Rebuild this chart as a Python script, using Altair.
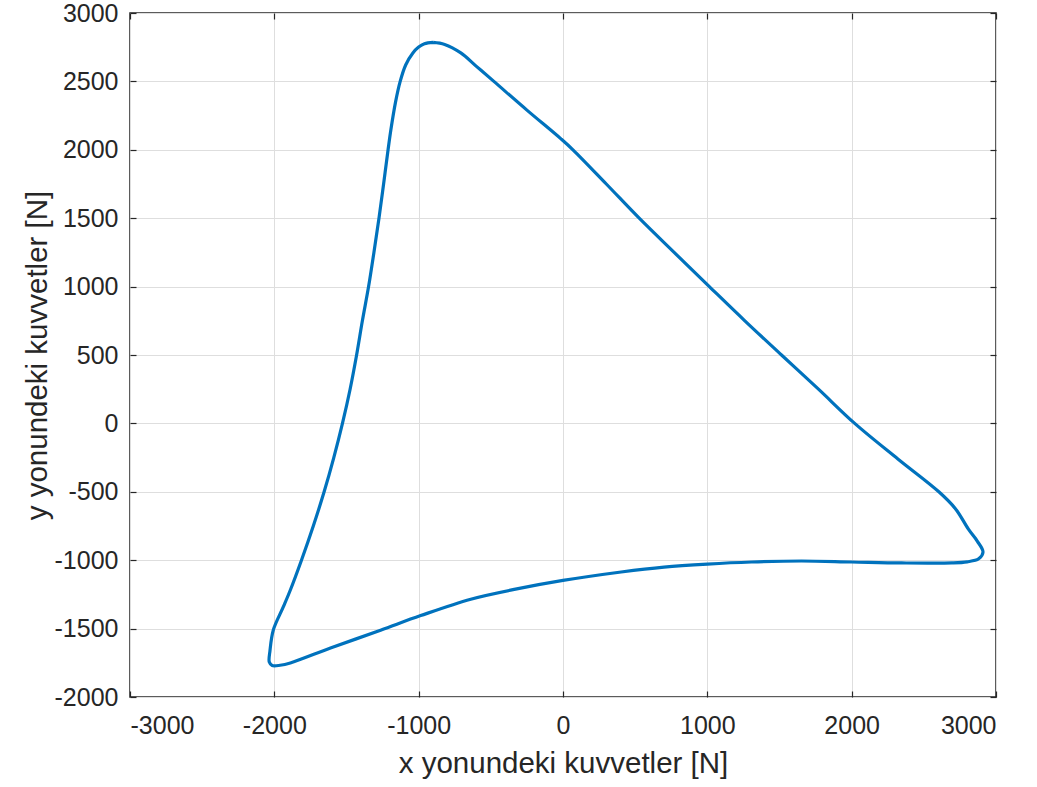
import altair as alt
import pandas as pd

# Closed force loop (x, y), in drawing order
xs = [-900, -820, -708, -600, -479, -250, -14, 69, 300, 528, 770, 1014, 1260,
      1514, 1770, 2021, 2320, 2604, 2720, 2810, 2870, 2910, 2880, 2800, 2694,
      2347, 2000, 1653, 1306, 1000, 700, 403, 0, -320, -639, -986, -1264,
      -1611, -1889, -1960, -2015, -2035, -2030, -2007, -1938, -1889, -1812,
      -1730, -1655, -1588, -1528, -1475, -1430, -1390, -1347, -1310, -1275,
      -1243, -1212, -1192, -1160, -1128, -1090, -1040, -1000, -960, -900]
ys = [2785, 2770, 2708, 2610, 2500, 2290, 2080, 2000, 1750, 1500, 1250, 1000,
      750, 500, 250, 0, -260, -500, -625, -775, -860, -940, -990, -1012, -1020,
      -1020, -1013, -1006, -1013, -1028, -1050, -1086, -1148, -1210, -1285,
      -1405, -1512, -1642, -1751, -1768, -1770, -1745, -1660, -1510, -1342,
      -1218, -1000, -750, -500, -250, 0, 250, 500, 750, 1000, 1250, 1500,
      1750, 2000, 2150, 2350, 2500, 2620, 2708, 2751, 2775, 2785]

x_ticks = [-3000, -2000, -1000, 0, 1000, 2000, 3000]
y_ticks = [-2000, -1500, -1000, -500, 0, 500, 1000, 1500, 2000, 2500, 3000]

x_title = "x yonundeki kuvvetler [N]"
y_title = "y yonundeki kuvvetler [N]"

df = pd.DataFrame({"x": xs, "y": ys, "i": list(range(len(xs)))})

FONT = "Liberation Sans"
TXT = "#262626"

xscale = alt.Scale(domain=[-3000, 3000], nice=False, zero=False)
yscale = alt.Scale(domain=[-2000, 3000], nice=False, zero=False)

common_axis = dict(
    domain=False, offset=-6, tickSize=6, tickWidth=1.2, tickColor=TXT,
    gridColor="#dedede", gridWidth=1, labelFont=FONT, labelFontSize=25,
    labelColor=TXT, titleFont=FONT, titleFontSize=29.5, titleColor=TXT,
    titleFontWeight="normal", labelExpr="'' + datum.value",
)

main = alt.Chart(df).mark_line(
    color="#0072BD", strokeWidth=3.2, interpolate="catmull-rom"
).encode(
    x=alt.X("x:Q", scale=xscale,
            axis=alt.Axis(values=x_ticks, title=x_title, orient="bottom",
                          grid=True, labelPadding=16, titlePadding=11,
                          **common_axis)),
    y=alt.Y("y:Q", scale=yscale,
            axis=alt.Axis(values=y_ticks, title=y_title, orient="left",
                          grid=True, labelPadding=12, titlePadding=2,
                          **common_axis)),
    order="i:Q",
)

frame_axis = dict(domain=False, offset=-6, tickSize=6, tickWidth=1.2,
                  tickColor=TXT, labels=False, grid=False, title=None)

frame = alt.Chart(df).mark_line(opacity=0).encode(
    x=alt.X("x:Q", scale=xscale,
            axis=alt.Axis(values=x_ticks, orient="top", **frame_axis)),
    y=alt.Y("y:Q", scale=yscale,
            axis=alt.Axis(values=y_ticks, orient="right", **frame_axis)),
    order="i:Q",
)

chart = alt.layer(frame, main).resolve_axis(
    x="independent", y="independent"
).properties(
    width=866, height=684,
    autosize=alt.AutoSizeParams(type="none"),
    padding={"left": 130, "top": 13, "right": 41, "bottom": 90},
    background="white",
).configure_view(
    stroke="#262626", strokeWidth=1.5, fill="white"
)

chart.save("out.html", embed_options={"renderer": "svg", "actions": False})
